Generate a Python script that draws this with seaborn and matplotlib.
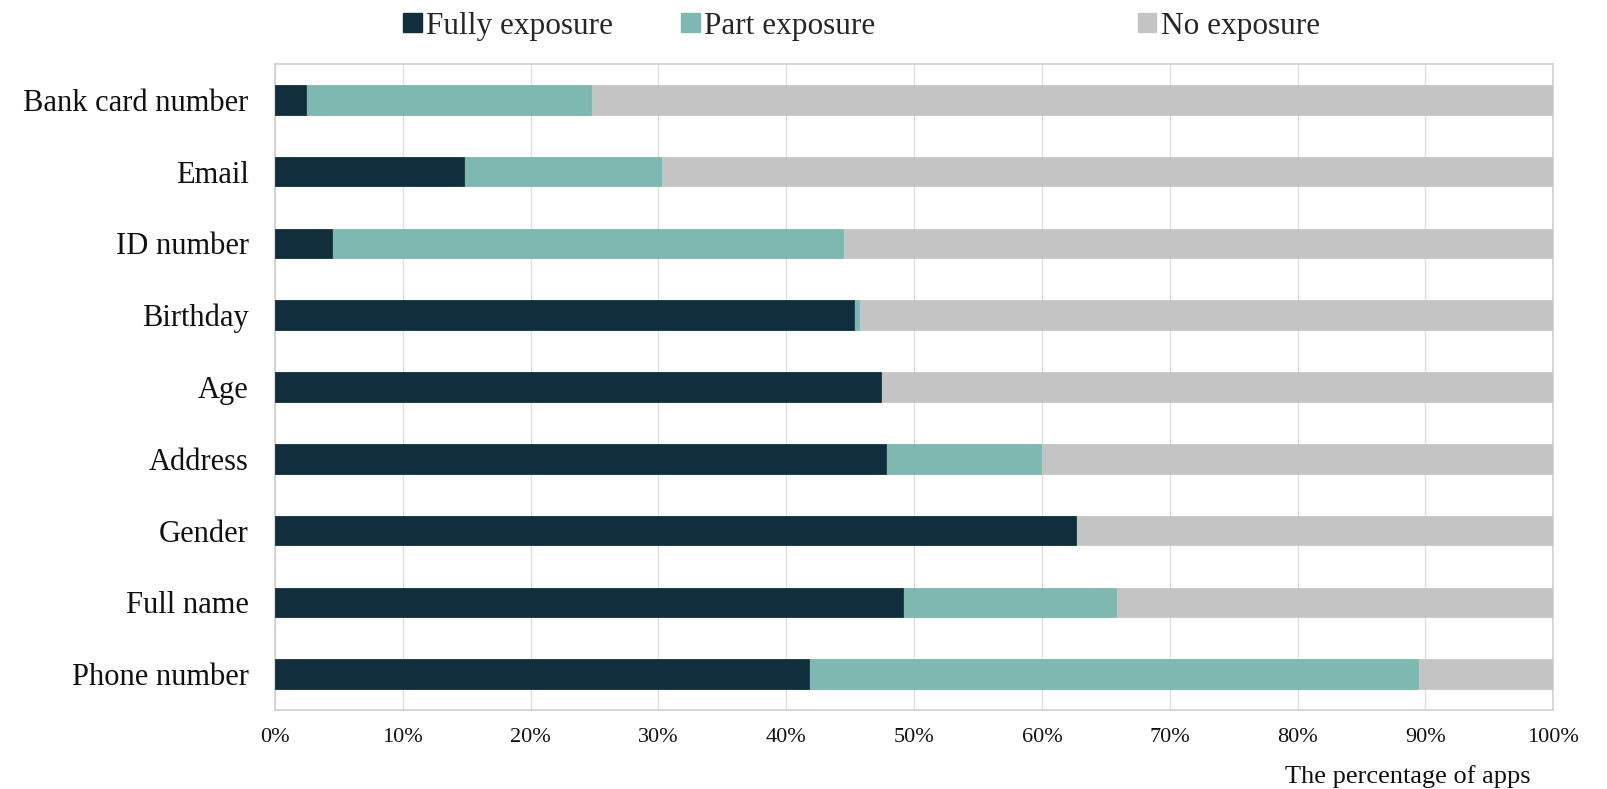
import matplotlib
matplotlib.use("Agg")
import matplotlib.pyplot as plt
from matplotlib.patches import Patch
import pandas as pd
import seaborn as sns

# Share of apps exposing each kind of personal information (%)
categories = ["Bank card number", "Email", "ID number", "Birthday", "Age",
              "Address", "Gender", "Full name", "Phone number"]
fully_exposure = [2.4, 14.8, 4.5, 45.3, 47.4, 47.8, 62.7, 49.1, 41.8]
part_exposure = [22.3, 15.4, 39.9, 0.4, 0.0, 12.1, 0.0, 16.7, 47.6]
no_exposure = [75.3, 69.8, 55.6, 54.3, 52.6, 40.1, 37.3, 34.2, 10.6]
x_ticks = [0, 10, 20, 30, 40, 50, 60, 70, 80, 90, 100]

series_names = ["Fully exposure", "Part exposure", "No exposure"]
colors = ["#112E3C", "#7EB9B1", "#C4C4C4"]

sns.set_theme(style="white")
plt.rcParams["font.family"] = ["Liberation Serif", "DejaVu Serif"]

df = pd.DataFrame({
    "category": categories,
    "full": fully_exposure,
    "part": part_exposure,
    "none": no_exposure,
})
df["end_full"] = df["full"]
df["end_part"] = df["full"] + df["part"]
df["end_none"] = df["full"] + df["part"] + df["none"]

fig = plt.figure(figsize=(16.08, 7.89), dpi=100)
ax = fig.add_axes([0.171, 0.10, 0.795, 0.819])

# Stacked bars drawn as overlapping cumulative totals, back to front
for col, color in [("end_none", colors[2]), ("end_part", colors[1]), ("end_full", colors[0])]:
    sns.barplot(data=df, x=col, y="category", order=categories, orient="h",
                color=color, width=0.41, saturation=1, ax=ax,
                edgecolor=color, linewidth=0.5, zorder=3)

ax.set_xlim(0, 100)
ax.set_ylim(len(categories) - 0.5, -0.5)
ax.set_xticks(x_ticks)
ax.set_xticklabels([f"{t}%" for t in x_ticks], fontsize=16)
ax.tick_params(axis="x", length=0, pad=13)
ax.tick_params(axis="y", length=0, pad=19, labelsize=22)
for lab in ax.get_yticklabels():
    lab.set_color("#111111")
for lab in ax.get_xticklabels():
    lab.set_color("#111111")

ax.set_ylabel("")
ax.set_xlabel("The percentage of apps", fontsize=19, color="#111111",
              ha="right", va="center")
ax.xaxis.set_label_coords(0.982, -0.102)

ax.grid(axis="x", color="#DEDEDE", linewidth=1.0, zorder=0)
ax.grid(axis="y", visible=False)
ax.set_axisbelow(True)
for spine in ax.spines.values():
    spine.set_visible(True)
    spine.set_color("#D0D0D0")
    spine.set_linewidth(1.2)

# Legend entries spread across the top of the figure
legend_x = [0.2505, 0.4235, 0.7075]
for name, color, lx in zip(series_names, colors, legend_x):
    fig.legend(handles=[Patch(facecolor=color, edgecolor=color)], labels=[name],
               loc="center left", bbox_to_anchor=(lx, 0.967), frameon=False,
               fontsize=22.5, handlelength=0.6, handleheight=0.6,
               handletextpad=0.15, borderaxespad=0, borderpad=0)

fig.savefig("out.png", dpi=100)
